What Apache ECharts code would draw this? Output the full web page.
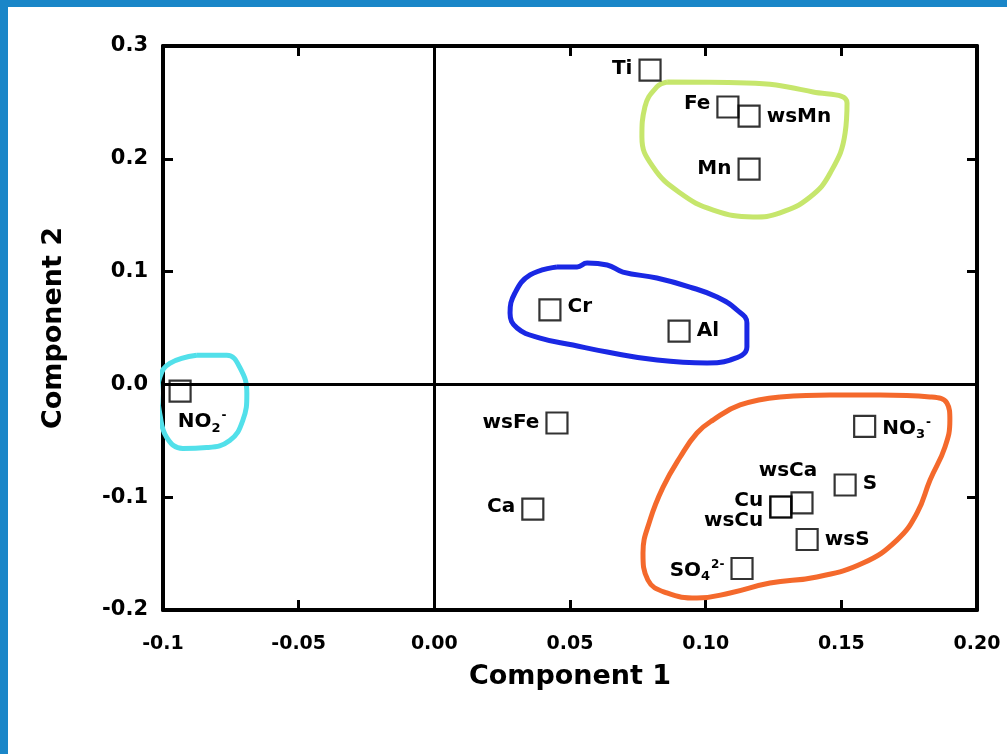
<!DOCTYPE html>
<html>
<head>
<meta charset="utf-8">
<title>Component 1 vs Component 2</title>
<script src="https://cdn.jsdelivr.net/npm/echarts@6/dist/echarts.min.js"></script>
<style>
  html, body { margin: 0; padding: 0; background: #fff; }
  #chart { position: absolute; left: 0; top: 0; width: 1007px; height: 754px; }
  .edge-top { position: absolute; left: 0; top: 0; width: 1007px; height: 7px; background: #1a86c8; }
  .edge-left { position: absolute; left: 0; top: 0; width: 8px; height: 754px; background: #1a86c8; }
</style>
</head>
<body>
<div id="chart"></div>
<div class="edge-top"></div>
<div class="edge-left"></div>
<script>
// loadings
const names = ['Ti', 'Fe', 'wsMn', 'Mn', 'Cr', 'Al', 'NO2-', 'wsFe', 'Ca', 'NO3-', 'wsCa', 'S', 'Cu', 'wsCu', 'wsS', 'SO42-']
const comp1 = [0.0795, 0.1082, 0.1160, 0.1160, 0.0426, 0.0902, -0.0937, 0.0452, 0.0363, 0.1586, 0.1355, 0.1514, 0.1277, 0.1277, 0.1374, 0.1134]
const comp2 = [0.2787, 0.2459, 0.2379, 0.1909, 0.0660, 0.0473, -0.0059, -0.0342, -0.1105, -0.0373, -0.1051, -0.0892, -0.1087, -0.1087, -0.1375, -0.1632]

const xTickLabels = ['-0.1', '-0.05', '0.00', '0.05', '0.10', '0.15', '0.20']
const yTickLabels = ['-0.2', '-0.1', '0.0', '0.1', '0.2', '0.3']

// hand drawn group outlines, in data units
const greenLoop = [[0.0858, 0.2681], [0.1152, 0.2672], [0.1396, 0.2592], [0.1521, 0.2495], [0.1514, 0.2229], [0.1459, 0.1874], [0.1385, 0.1662], [0.1274, 0.1520], [0.1175, 0.1485], [0.1028, 0.1546], [0.0906, 0.1697], [0.0806, 0.1928], [0.0765, 0.2194], [0.0776, 0.2460], [0.0820, 0.2637], [0.0858, 0.2681]]
const blueLoop = [[0.0452, 0.1041], [0.0526, 0.1041], [0.0563, 0.1076], [0.0637, 0.1059], [0.0695, 0.0996], [0.0820, 0.0943], [0.0942, 0.0863], [0.1042, 0.0774], [0.1115, 0.0660], [0.1152, 0.0544], [0.1152, 0.0332], [0.1090, 0.0216], [0.1005, 0.0190], [0.0821, 0.0216], [0.0637, 0.0287], [0.0511, 0.0349], [0.0390, 0.0411], [0.0305, 0.0500], [0.0279, 0.0633], [0.0297, 0.0810], [0.0353, 0.0970], [0.0452, 0.1041]]
const cyanLoop = [[-0.0876, 0.0258], [-0.0765, 0.0258], [-0.0717, 0.0151], [-0.0691, -0.0080], [-0.0706, -0.0320], [-0.0754, -0.0497], [-0.0839, -0.0560], [-0.0927, -0.0568], [-0.0986, -0.0471], [-0.1012, -0.0258], [-0.1020, -0.0080], [-0.1012, 0.0062], [-0.0975, 0.0186], [-0.0876, 0.0258]]
const orangeLoop = [[0.1274, -0.0111], [0.1458, -0.0094], [0.1643, -0.0094], [0.1827, -0.0111], [0.1889, -0.0165], [0.1900, -0.0316], [0.1882, -0.0555], [0.1827, -0.0848], [0.1779, -0.1140], [0.1705, -0.1380], [0.1580, -0.1584], [0.1410, -0.1707], [0.1237, -0.1761], [0.1090, -0.1849], [0.0968, -0.1894], [0.0857, -0.1849], [0.0787, -0.1734], [0.0769, -0.1495], [0.0795, -0.1202], [0.0843, -0.0910], [0.0906, -0.0644], [0.0968, -0.0431], [0.1027, -0.0316], [0.1127, -0.0182], [0.1274, -0.0111]]

const font = '"DejaVu Sans", "Liberation Sans", Arial, sans-serif'

// where each label sits relative to its square
const labelPlace = {
  'Ti': ['left', [0, -1]],
  'Fe': ['left', [0, -3]],
  'wsMn': ['right', [0, 1]],
  'Mn': ['left', [0, 0]],
  'Cr': ['right', [0, -3]],
  'Al': ['right', [0, 0]],
  'NO2-': ['bottom', [22, 1]],
  'wsFe': ['left', [0, 0]],
  'Ca': ['left', [0, -2]],
  'NO3-': ['right', [0, 2]],
  'wsCa': ['top', [-14, -5]],
  'S': ['right', [0, -1]],
  'Cu': ['left', [0, -6]],
  'wsCu': ['left', [0, 14]],
  'wsS': ['right', [0, 0]],
  'SO42-': ['left', [0, 2]]
}
const richText = {
  'NO2-': '{m|NO}{sub|2}{sup|-}',
  'NO3-': '{m|NO}{sub|3}{sup|-}',
  'SO42-': '{m|SO}{sub|4}{sup|2-}'
}

const points = names.map(function(n, i) {
  return {
    name: n,
    value: [comp1[i], comp2[i]],
    label: { position: labelPlace[n][0], offset: labelPlace[n][1] }
  }
})

function tickFmt(labels, min, step) {
  return function(v) {
    return labels[Math.round((v - min) / step)]
  }
}

function loop(data, color) {
  return {
    type: 'line',
    data: data,
    smooth: 0.45,
    symbol: 'none',
    clip: false,
    silent: true,
    z: 1,
    lineStyle: { color: color, width: 5 }
  }
}

const tickStyle = { show: true, inside: true, length: 10, lineStyle: { color: '#000', width: 3 } }
const lineStyle = { show: true, onZero: false, lineStyle: { color: '#000', width: 4 } }
const titleText = { color: '#000', fontSize: 27, fontWeight: 'bold', fontFamily: font }
const pointText = { color: '#000', fontWeight: 'bold', fontFamily: font, textBorderWidth: 0, opacity: 1 }

const chart = echarts.init(document.getElementById('chart'))
chart.setOption({
  animation: false,
  backgroundColor: '#fff',
  grid: { left: 163, top: 46, right: 30, bottom: 144 },
  xAxis: [
    {
      type: 'value',
      min: -0.1,
      max: 0.2,
      interval: 0.05,
      position: 'bottom',
      axisLine: lineStyle,
      axisTick: tickStyle,
      splitLine: { show: false },
      axisLabel: {
        formatter: tickFmt(xTickLabels, -0.1, 0.05),
        margin: 25,
        color: '#000',
        fontSize: 19,
        fontWeight: 'bold',
        fontFamily: font,
        hideOverlap: false
      },
      name: 'Component 1',
      nameLocation: 'middle',
      nameGap: 53,
      nameTextStyle: titleText
    },
    {
      type: 'value',
      min: -0.1,
      max: 0.2,
      interval: 0.05,
      position: 'top',
      axisLine: lineStyle,
      axisTick: tickStyle,
      splitLine: { show: false },
      axisLabel: { show: false }
    }
  ],
  yAxis: [
    {
      type: 'value',
      min: -0.2,
      max: 0.3,
      interval: 0.1,
      position: 'left',
      axisLine: lineStyle,
      axisTick: tickStyle,
      splitLine: { show: false },
      axisLabel: {
        formatter: tickFmt(yTickLabels, -0.2, 0.1),
        margin: 15,
        color: '#000',
        fontSize: 21,
        fontWeight: 'bold',
        fontFamily: font,
        hideOverlap: false
      },
      name: 'Component 2',
      nameLocation: 'middle',
      nameGap: 96,
      nameTextStyle: titleText
    },
    {
      type: 'value',
      min: -0.2,
      max: 0.3,
      interval: 0.1,
      position: 'right',
      axisLine: lineStyle,
      axisTick: tickStyle,
      splitLine: { show: false },
      axisLabel: { show: false }
    }
  ],
  series: [
    loop(greenLoop, '#c6e66c'),
    loop(blueLoop, '#1a28e4'),
    loop(cyanLoop, '#52e0ea'),
    loop(orangeLoop, '#f4692c'),
    {
      type: 'scatter',
      data: points,
      symbol: 'rect',
      symbolSize: 21,
      z: 3,
      itemStyle: { color: 'rgba(0,0,0,0)', borderColor: '#000', borderWidth: 2.2 },
      label: Object.assign({
        show: true,
        distance: 6,
        fontSize: 20,
        formatter: function(p) {
          return richText[p.name] || p.name
        },
        rich: {
          m: Object.assign({ fontSize: 20 }, pointText),
          sub: Object.assign({ fontSize: 13, padding: [12, 0, 0, 0] }, pointText),
          sup: Object.assign({ fontSize: 12, padding: [0, 0, 12, 1] }, pointText)
        }
      }, pointText),
      emphasis: { disabled: true },
      markLine: {
        silent: true,
        symbol: 'none',
        label: { show: false },
        lineStyle: { color: '#000', width: 3, type: 'solid' },
        data: [{ xAxis: 0 }, { yAxis: 0 }]
      }
    }
  ]
})
</script>
</body>
</html>
